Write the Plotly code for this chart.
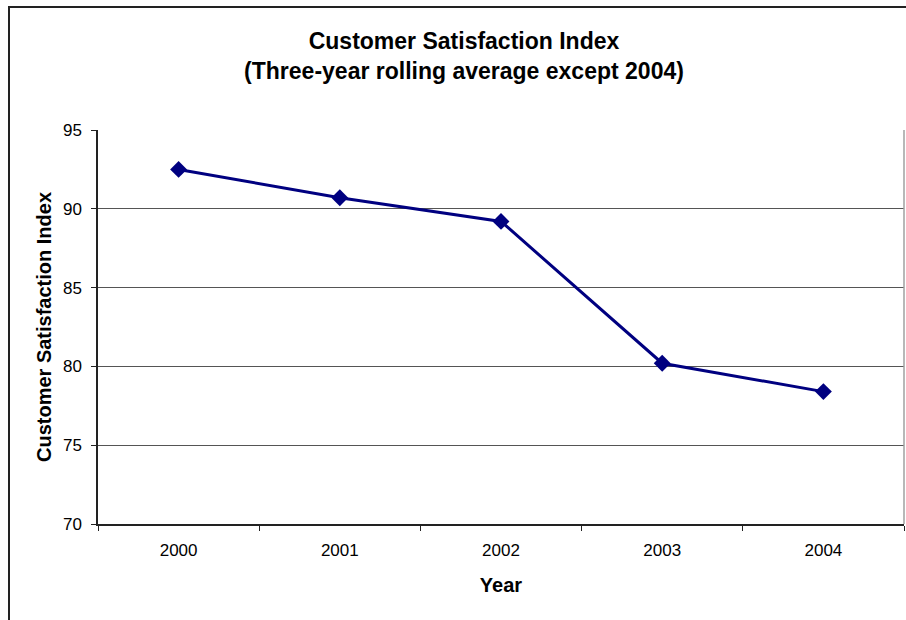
import plotly.graph_objects as go

# Customer satisfaction index by year
years = ["2000", "2001", "2002", "2003", "2004"]
index_values = [92.5, 90.7, 89.2, 80.2, 78.4]
y_ticks = [70, 75, 80, 85, 90, 95]

FONT = "Liberation Sans, Arial, sans-serif"
NAVY = "#000080"

W, H = 906, 620
L, R, T, B = 98, 2, 130, 96
pw, ph = W - L - R, H - T - B


def px_x(p):
    return (p - L) / pw


def px_y(p):
    return (H - B - p) / ph


fig = go.Figure()
fig.add_trace(go.Scatter(
    x=years, y=index_values, mode="lines+markers",
    line=dict(color=NAVY, width=3),
    marker=dict(symbol="diamond", size=13, color=NAVY),
    showlegend=False, cliponaxis=False,
))

fig.update_layout(
    width=W, height=H,
    margin=dict(l=L, r=R, t=T, b=B),
    paper_bgcolor="white", plot_bgcolor="white",
    font=dict(family=FONT, color="black"),
    title=dict(
        text="<b>Customer Satisfaction Index<br>(Three-year rolling average except 2004)</b>",
        x=464 / W, xref="container", xanchor="center",
        y=1 - 49 / H, yref="container", yanchor="middle",
        font=dict(size=23, family=FONT, color="black"),
    ),
    xaxis=dict(
        type="category", tickson="boundaries", range=[-0.5, 4.5],
        ticks="outside", ticklen=5, tickcolor="#222", tickwidth=1,
        showline=True, linecolor="#222", linewidth=1.5,
        showgrid=False, zeroline=False,
        ticklabelstandoff=10,
        tickfont=dict(size=17, family=FONT, color="black"),
        title=dict(text="<b>Year</b>", font=dict(size=20, family=FONT, color="black"), standoff=19),
    ),
    yaxis=dict(
        range=[70, 95], tickvals=y_ticks,
        ticks="outside", ticklen=5, tickcolor="#222", tickwidth=1,
        showline=True, linecolor="#222", linewidth=1.5,
        showgrid=True, gridcolor="#555", gridwidth=1.2,
        zeroline=False,
        ticklabelstandoff=6,
        tickfont=dict(size=17, family=FONT, color="black"),
        title=dict(text="<b>Customer Satisfaction Index</b>",
                   font=dict(size=20, family=FONT, color="black"), standoff=6),
    ),
    shapes=[
        # plot-area border (right edge in light gray)
        dict(type="line", xref="paper", yref="paper", x0=1, x1=1, y0=0, y1=1,
             line=dict(color="#a0a0a0", width=1.5), layer="above"),
        # outer chart frame
        dict(type="rect", xref="paper", yref="paper",
             x0=px_x(9), x1=px_x(930), y0=px_y(7), y1=px_y(650),
             line=dict(color="#222", width=2), fillcolor="rgba(0,0,0,0)"),
    ],
)

fig.write_html("out.html")
